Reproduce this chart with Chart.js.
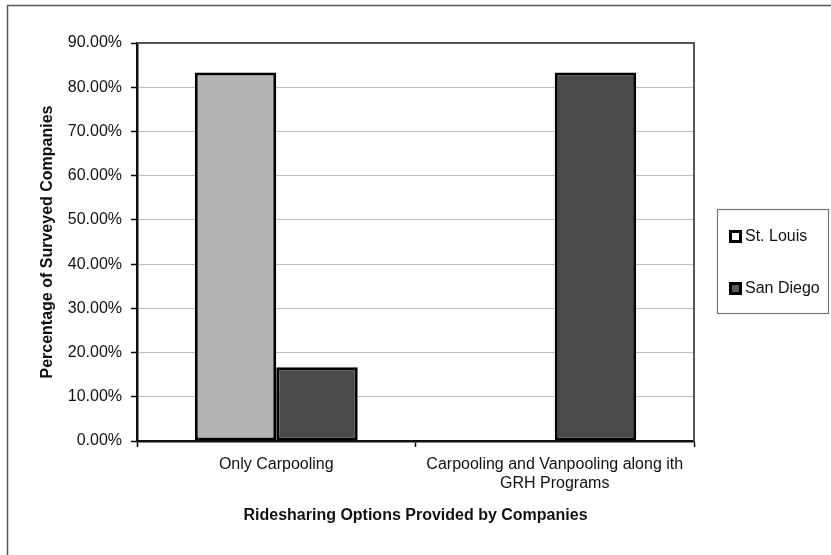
<!DOCTYPE html>
<html>
<head>
<meta charset="utf-8">
<script src="https://cdn.jsdelivr.net/npm/chart.js@4/dist/chart.umd.min.js"></script>
<style>
  html, body { margin: 0; padding: 0; background: #fff; }
  #wrap { width: 831px; height: 555px; position: relative; }
</style>
</head>
<body>
<div id="wrap"><canvas id="c" width="831" height="555"></canvas></div>
<script>
// Ridesharing options offered by surveyed companies (percent of companies)
const categories = [
  'Only Carpooling',
  ['Carpooling and Vanpooling along ith', 'GRH Programs']
];
const seriesNames = ['St. Louis', 'San Diego'];
const stLouis = [83.33, 0];
const sanDiego = [16.67, 83.33];
const barColors = ['#b4b4b4', '#4a4a4a'];
const legendSwatches = ['#ffffff', '#5a5a5a'];

const FONT = '"Liberation Sans", Arial, Helvetica, sans-serif';

// Outer frame, plot border and boxed legend
const decorations = {
  id: 'decorations',
  beforeDraw(chart) {
    const ctx = chart.ctx;
    ctx.save();
    ctx.fillStyle = '#fff';
    ctx.fillRect(0, 0, chart.width, chart.height);
    ctx.strokeStyle = '#555';
    ctx.lineWidth = 1.5;
    ctx.strokeRect(7.5, 5.5, 900, 700);
    ctx.restore();
  },
  afterDatasetsDraw(chart) {
    const ctx = chart.ctx;
    const a = chart.chartArea;
    ctx.save();
    ctx.strokeStyle = '#555';
    ctx.lineWidth = 2;
    ctx.beginPath();
    ctx.moveTo(a.left, a.top);
    ctx.lineTo(a.right, a.top);
    ctx.lineTo(a.right, a.bottom);
    ctx.stroke();

    // legend
    const lx = 717, ly = 209, lw = 111, lh = 104;
    ctx.strokeStyle = '#777';
    ctx.lineWidth = 1.2;
    ctx.strokeRect(lx + 0.5, ly + 0.5, lw, lh);
    ctx.font = '16px ' + FONT;
    ctx.textBaseline = 'middle';
    const rows = [236, 288];
    chart.data.datasets.forEach((ds, i) => {
      const y = rows[i];
      ctx.fillStyle = '#000';
      ctx.fillRect(729, y - 6, 13, 13);
      ctx.fillStyle = legendSwatches[i];
      ctx.fillRect(732, y - 3, 7, 7);
      ctx.fillStyle = '#111';
      ctx.fillText(ds.label, 745, y + 1);
    });
    ctx.restore();
  }
};

new Chart(document.getElementById('c'), {
  type: 'bar',
  data: {
    labels: categories,
    datasets: [
      { label: seriesNames[0], data: stLouis, backgroundColor: barColors[0],
        borderColor: '#000', borderWidth: 3, borderSkipped: false },
      { label: seriesNames[1], data: sanDiego, backgroundColor: barColors[1],
        borderColor: '#000', borderWidth: 3, borderSkipped: false }
    ]
  },
  options: {
    responsive: false,
    animation: false,
    devicePixelRatio: 1,
    datasets: { bar: { categoryPercentage: 0.585, barPercentage: 1.0 } },
    layout: { padding: { top: 43, right: 137, bottom: 30, left: 38 } },
    plugins: {
      legend: { display: false },
      tooltip: { enabled: false }
    },
    scales: {
      x: {
        afterFit(scale) { scale.height = 84; },
        grid: { display: true, drawOnChartArea: false, drawTicks: true,
                tickLength: 6, tickColor: '#000', tickWidth: 1.5, offset: true },
        border: { display: true, color: '#111', width: 2.5 },
        ticks: { color: '#111', font: { family: FONT, size: 16 }, padding: 8,
                 maxRotation: 0, autoSkip: false },
        title: { display: true, text: 'Ridesharing Options Provided by Companies',
                 color: '#111', font: { family: FONT, size: 16, weight: 'bold' },
                 padding: { top: 4, bottom: 0 } }
      },
      y: {
        min: 0, max: 90,
        afterFit(scale) { scale.width = 99; },
        ticks: { stepSize: 10, color: '#111', font: { family: FONT, size: 16 },
                 padding: 9, callback: v => v.toFixed(2) + '%' },
        grid: { color: '#bdbdbd', lineWidth: 1, drawTicks: true, tickLength: 6,
                tickColor: '#000', tickWidth: 1.5 },
        border: { display: true, color: '#111', width: 2.5 },
        title: { display: true, text: 'Percentage of Surveyed Companies',
                 color: '#111', font: { family: FONT, size: 16, weight: 'bold' },
                 padding: { top: 0, bottom: 0 } }
      }
    }
  },
  plugins: [decorations]
});
</script>
</body>
</html>
